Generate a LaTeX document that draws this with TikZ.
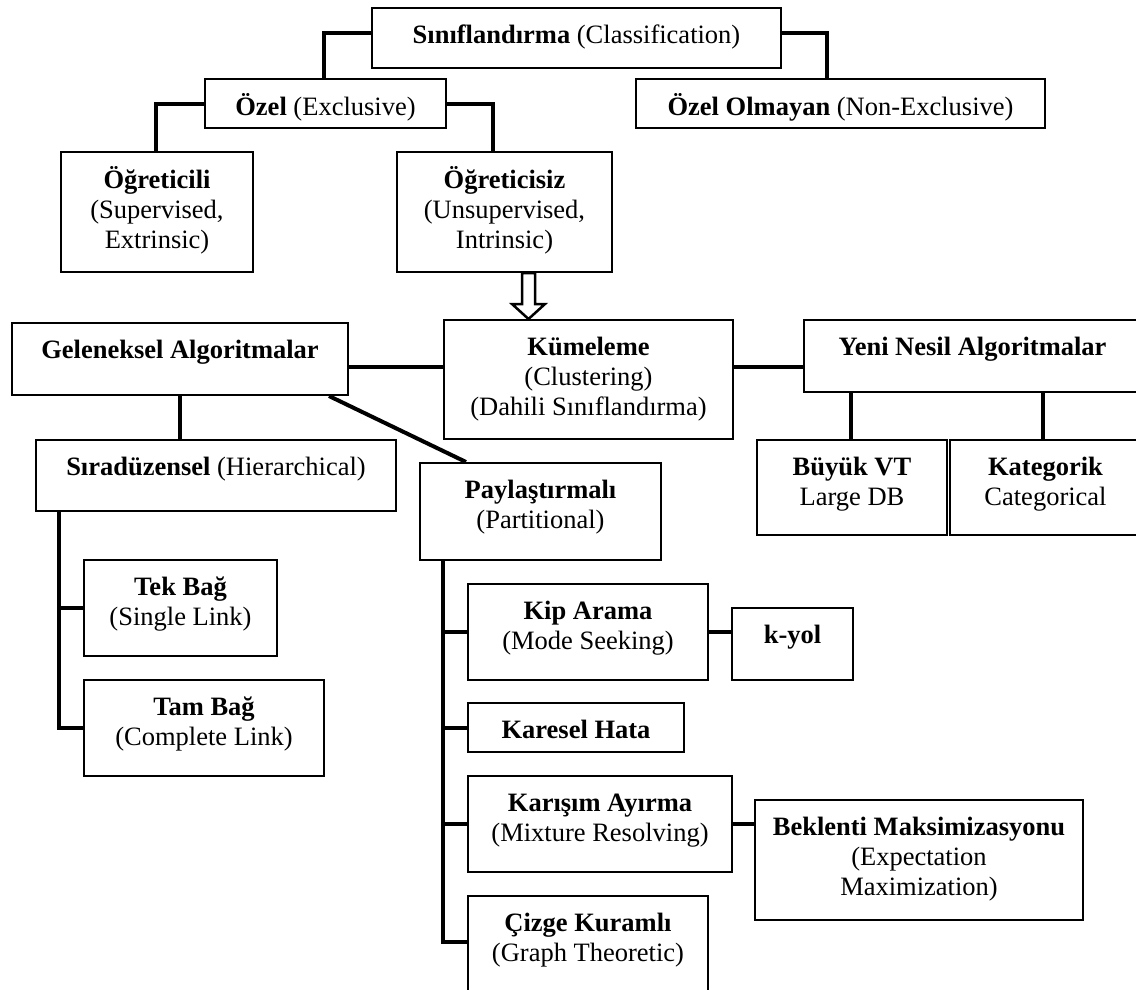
\documentclass[tikz,border=0pt]{standalone}
\usepackage{fontspec}
\setmainfont{Liberation Serif}
\usetikzlibrary{calc}

\tikzset{
  boxn/.style={draw=black, line width=2pt, fill=white, rectangle, inner sep=0pt, anchor=north west},
  lbl/.style={anchor=north, inner sep=0pt, font=\fontsize{26.5}{30}\selectfont},
  conn/.style={draw=black, line width=4pt, line join=miter},
  hollowarrow/.style={draw=black, line width=2.5pt, fill=white, line join=miter},
}

% centred lines of a box label, first baseline fixed
\newcommand\lines[1]{\begin{tabular}[t]{@{}c@{}}#1\end{tabular}}
% \mkbox{name}{left}{top}{right}{bottom}{label}
\newcommand\mkbox[6]{%
  \node[boxn, minimum width={(#4-#2)*1pt}, minimum height={(#5-#3)*1pt}] (#1) at (#2,#3) {};
  \node[lbl] (#1-t) at ([yshift=-15pt]#1.north) {\lines{#6}};
}

\begin{document}
\begin{tikzpicture}[x=1pt, y=-1pt]
  \fill[white] (0,0) rectangle (1136,989);
  \useasboundingbox (0,0) rectangle (1136,989);

  % classification tree
  \mkbox{sinif}{371}{7}{780}{67}{\textbf{Sınıflandırma} (Classification)}
  \mkbox{ozel}{204}{78}{445}{127}{\textbf{Özel} (Exclusive)}
  \mkbox{ozelol}{635}{78}{1044}{127}{\textbf{Özel Olmayan} (Non-Exclusive)}
  \mkbox{ogr}{60}{151}{252}{271}{\textbf{Öğreticili}\\(Supervised,\\Extrinsic)}
  \mkbox{ogs}{396}{151}{611}{271}{\textbf{Öğreticisiz}\\(Unsupervised,\\Intrinsic)}

  % clustering row
  \mkbox{gel}{11}{322}{347}{394}{\textbf{Geleneksel Algoritmalar}}
  \mkbox{kum}{443}{319}{732}{438}{\textbf{Kümeleme}\\(Clustering)\\(Dahili Sınıflandırma)}
  \mkbox{yeni}{803}{319}{1140}{391}{\textbf{Yeni Nesil Algoritmalar}}
  \mkbox{buyuk}{756}{439}{946}{534}{\textbf{Büyük VT}\\Large DB}
  \mkbox{kat}{949}{439}{1140}{534}{\textbf{Kategorik}\\Categorical}

  % hierarchical branch
  \mkbox{sira}{35}{439}{395}{510}{\textbf{Sıradüzensel} (Hierarchical)}
  \mkbox{tek}{83}{559}{276}{655}{\textbf{Tek Bağ}\\(Single Link)}
  \mkbox{tam}{83}{679}{323}{775}{\textbf{Tam Bağ}\\(Complete Link)}

  % partitional branch
  \mkbox{pay}{419}{462}{660}{559}{\textbf{Paylaştırmalı}\\(Partitional)}
  \mkbox{kip}{467}{583}{707}{679}{\textbf{Kip Arama}\\(Mode Seeking)}
  \mkbox{kyol}{731}{607}{852}{679}{\textbf{k-yol}}
  \mkbox{kar}{467}{702}{683}{751}{\textbf{Karesel Hata}}
  \mkbox{mix}{467}{775}{731}{871}{\textbf{Karışım Ayırma}\\(Mixture Resolving)}
  \mkbox{bek}{754}{799}{1082}{919}{\textbf{Beklenti Maksimizasyonu}\\(Expectation\\Maximization)}
  \mkbox{ciz}{467}{895}{707}{1000}{\textbf{Çizge Kuramlı}\\(Graph Theoretic)}

  % connectors of the upper tree
  \draw[conn] (sinif.west |- 0,33) -| (ozel.north -| 324,0);
  \draw[conn] (sinif.east |- 0,33) -| (ozelol.north -| 827,0);
  \draw[conn] (ozel.west) -| (ogr.north -| 156,0);
  \draw[conn] (ozel.east) -| (ogs.north -| 493,0);

  % hollow block arrow into the clustering box
  \coordinate (arrtop) at (ogs.south -| 528.5,0);
  \coordinate (arrtip) at (kum.north -| 528.5,0);
  \draw[hollowarrow] ($(arrtop)+(-6.5,0)$) -- ($(arrtop)+(6.5,0)$)
    -- ($(arrtip)+(6.5,-15)$) -- ($(arrtip)+(16.5,-15)$) -- (arrtip)
    -- ($(arrtip)+(-16.5,-15)$) -- ($(arrtip)+(-6.5,-15)$) -- cycle;

  % clustering row connectors
  \draw[conn] (gel.east |- 0,367) -- (kum.west |- 0,367);
  \draw[conn] (kum.east |- 0,367) -- (yeni.west |- 0,367);
  \draw[conn] (yeni.south -| 851,0) -- (buyuk.north -| 851,0);
  \draw[conn] (yeni.south -| 1043,0) -- (kat.north -| 1043,0);
  \draw[conn] (gel.south -| 180,0) -- (sira.north -| 180,0);
  \draw[conn] (gel.south -| 329,0) -- (pay.north -| 466,0);

  % hierarchical trunk
  \draw[conn] (sira.south -| 59,0) |- (tam.west);
  \draw[conn] (tek.west) -- (tek.west -| 59,0);

  % partitional trunk
  \coordinate (cizjoin) at (ciz.west |- 0,942);
  \draw[conn] (pay.south -| 443,0) |- (cizjoin);
  \draw[conn] (kip.west) -- (kip.west -| 443,0);
  \draw[conn] (kar.west) -- (kar.west -| 443,0);
  \draw[conn] (mix.west) -- (mix.west -| 443,0);
  \draw[conn] (kip.east) -- (kyol.west |- kip.east);
  \draw[conn] (mix.east) -- (bek.west |- mix.east);
\end{tikzpicture}
\end{document}
